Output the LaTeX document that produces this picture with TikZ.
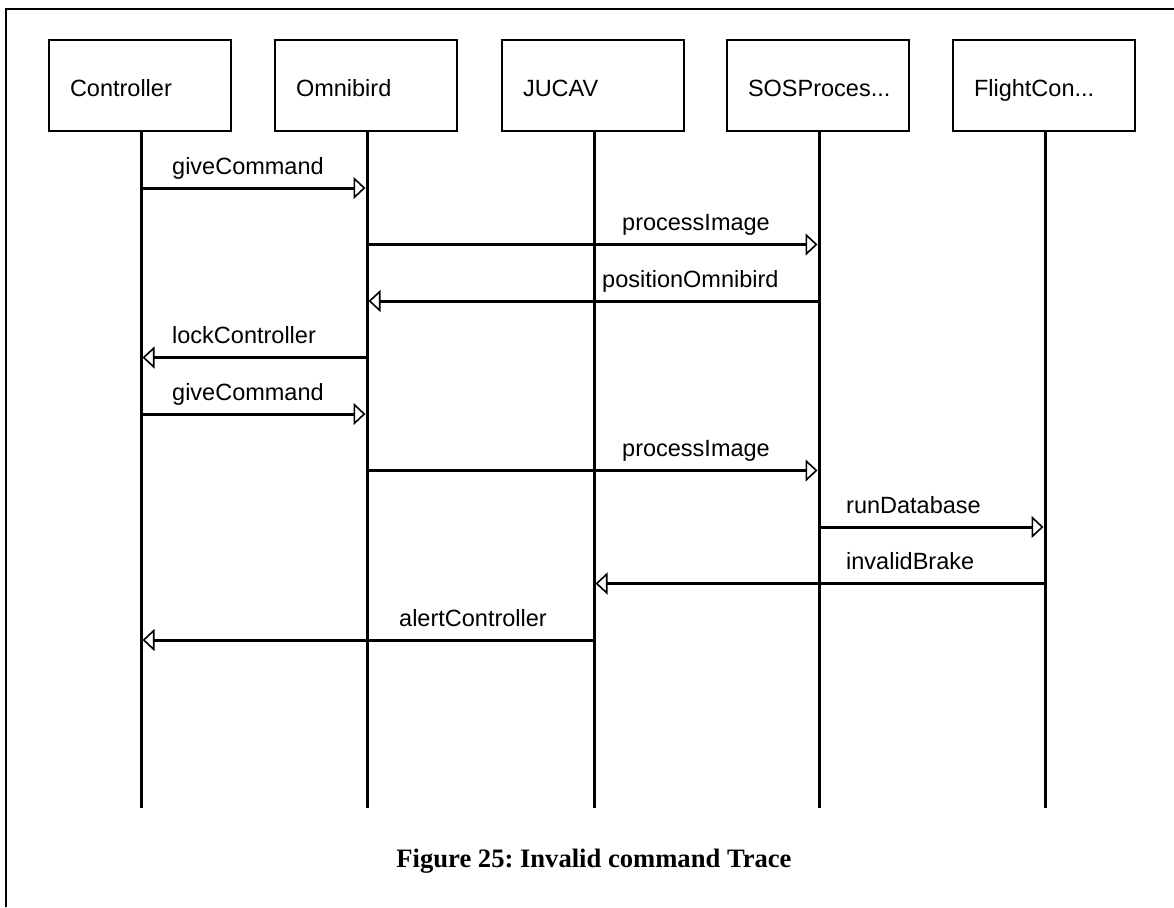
\documentclass[tikz,border=0pt]{standalone}
\usepackage{fontspec}
\setmainfont{Liberation Serif}
\setsansfont{Liberation Sans}
\usetikzlibrary{arrows.meta}
\frenchspacing
\begin{document}
\begin{tikzpicture}[x=1pt,y=-1pt,
  participant/.style={draw, line width=1.5pt, inner xsep=21pt, inner ysep=0pt,
    text width=140pt, align=left, minimum height=91pt,
    text height=21pt, text depth=0pt,
    font=\sffamily\fontsize{23.5}{28}\selectfont},
  lifeline/.style={line width=3pt},
  msg/.style={line width=3pt, shorten >=1.5pt,
    -{Triangle[open, length=12pt, width=22pt, line width=1.6pt]}},
  msglabel/.style={anchor=base west, inner sep=0pt,
    font=\sffamily\fontsize{23.5}{28}\selectfont},
  caption/.style={anchor=base, inner sep=0pt,
    font=\rmfamily\bfseries\fontsize{26.6}{32}\selectfont}]
  \useasboundingbox (0,0) rectangle (1174,907);
  \fill[white] (0,0) rectangle (1174,907);
  % frame edges
  \draw[line width=1.5pt] (6,907) -- (6,9) -- (1174,9);

  % participants
  \node[participant] (ctrl)   at (140,85.5) {Controller};
  \node[participant] (omni)   at (366,85.5) {Omnibird};
  \node[participant] (jucav)  at (593,85.5) {JUCAV};
  \node[participant] (sos)    at (818,85.5) {SOSProces...};
  \node[participant] (flight) at (1044,85.5) {FlightCon...};

  % lifeline ends
  \coordinate (ctrlEnd)   at (141,808);
  \coordinate (omniEnd)   at (367,808);
  \coordinate (jucavEnd)  at (594,808);
  \coordinate (sosEnd)    at (819,808);
  \coordinate (flightEnd) at (1045,808);
  \draw[lifeline] (ctrlEnd |- ctrl.south) -- (ctrlEnd);
  \draw[lifeline] (omniEnd |- omni.south) -- (omniEnd);
  \draw[lifeline] (jucavEnd |- jucav.south) -- (jucavEnd);
  \draw[lifeline] (sosEnd |- sos.south) -- (sosEnd);
  \draw[lifeline] (flightEnd |- flight.south) -- (flightEnd);

  % messages
  \draw[msg] (ctrlEnd |- 0,188)     -- (omniEnd |- 0,188);
  \draw[msg] (omniEnd |- 0,244.5)   -- (sosEnd |- 0,244.5);
  \draw[msg] (sosEnd |- 0,301)      -- (omniEnd |- 0,301);
  \draw[msg] (omniEnd |- 0,357.5)   -- (ctrlEnd |- 0,357.5);
  \draw[msg] (ctrlEnd |- 0,414)     -- (omniEnd |- 0,414);
  \draw[msg] (omniEnd |- 0,470.5)   -- (sosEnd |- 0,470.5);
  \draw[msg] (sosEnd |- 0,527)      -- (flightEnd |- 0,527);
  \draw[msg] (flightEnd |- 0,583.5) -- (jucavEnd |- 0,583.5);
  \draw[msg] (jucavEnd |- 0,640)    -- (ctrlEnd |- 0,640);

  % message labels
  \node[msglabel] (m1) at (172,174)   {giveCommand};
  \node[msglabel] (m2) at (622,230.5) {processImage};
  \node[msglabel] (m3) at (602,287)   {positionOmnibird};
  \node[msglabel] (m4) at (172,343.5) {lockController};
  \node[msglabel] (m5) at (172,400)   {giveCommand};
  \node[msglabel] (m6) at (622,456.5) {processImage};
  \node[msglabel] (m7) at (846,513)   {runDatabase};
  \node[msglabel] (m8) at (846,569.5) {invalidBrake};
  \node[msglabel] (m9) at (399,626)   {alertController};

  % caption
  \node[caption] (cap) at (594,867) {Figure 25: Invalid command Trace};
\end{tikzpicture}
\end{document}
